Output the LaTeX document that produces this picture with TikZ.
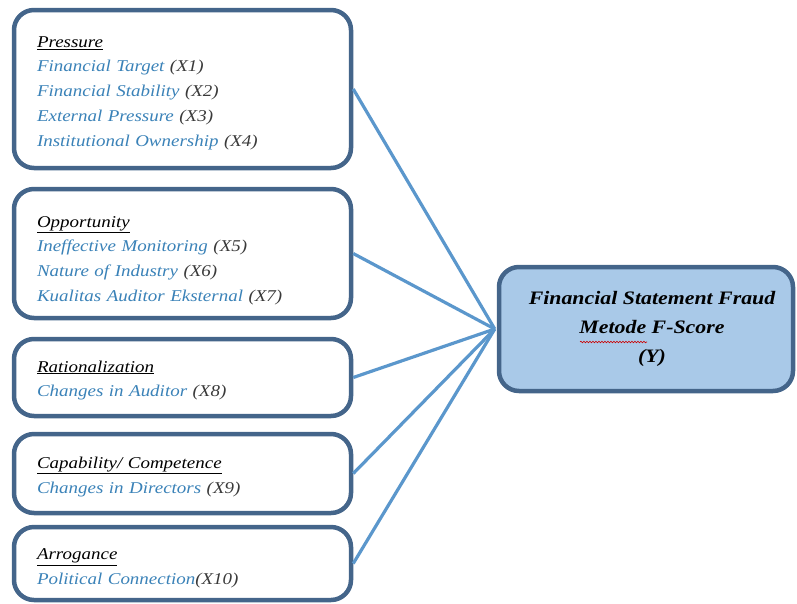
\documentclass[tikz,border=0pt]{standalone}
\usepackage{fontspec}
\setmainfont[FakeStretch=1.15]{Liberation Serif}
\usetikzlibrary{decorations.pathmorphing}
\definecolor{boxline}{HTML}{44658A}
\definecolor{itemblue}{HTML}{3A82B8}
\definecolor{xgray}{HTML}{3A3A3A}
\definecolor{linkblue}{HTML}{5B97CC}
\definecolor{yfill}{HTML}{A9C9E8}
\newcommand{\hd}[1]{\underline{#1}}
\newcommand{\itm}[2]{{\color{itemblue}#1}{\color{xgray}#2}}
\begin{document}
\begin{tikzpicture}[x=1pt,y=-1pt]
\useasboundingbox (0,0) rectangle (797,603);
\tikzset{
  factor/.style={draw=boxline, line width=4.5pt, rounded corners=20pt, fill=white,
    inner sep=0pt, minimum width=337pt},
  factortext/.style={text width=291pt, inner sep=0pt, align=left,
    font=\fontsize{16.5}{24.75}\selectfont\itshape},
  target/.style={draw=boxline, line width=4.5pt, rounded corners=20pt, fill=yfill,
    minimum width=294pt, minimum height=124pt, align=center, inner sep=0pt,
    font=\fontsize{19}{29}\selectfont\bfseries\itshape},
  link/.style={draw=linkblue, line width=3.2pt},
  squiggle/.style={draw=red!80!black, line width=0.6pt, decorate,
    decoration={snake, amplitude=0.8pt, segment length=3pt}}
}
\node[factor, minimum height=158pt] (b1) at (182.5,89) {};
\node[factor, minimum height=129pt] (b2) at (182.5,253.5) {};
\node[factor, minimum height=77pt] (b3) at (182.5,377.5) {};
\node[factor, minimum height=79pt] (b4) at (182.5,473.5) {};
\node[factor, minimum height=73pt] (b5) at (182.5,563.5) {};
\node[factortext] (t1) at ([yshift=-4pt]b1.center) {\hd{Pressure}\\
\itm{Financial Target }{(X1)}\\
\itm{Financial Stability }{(X2)}\\
\itm{External Pressure }{(X3)}\\
\itm{Institutional Ownership }{(X4)}};
\node[factortext] (t2) at ([yshift=-7pt]b2.center) {\hd{Opportunity}\\
\itm{Ineffective Monitoring }{(X5)}\\
\itm{Nature of Industry }{(X6)}\\
\itm{Kualitas Auditor Eksternal }{(X7)}};
\node[factortext] (t3) at ([yshift=-3pt]b3.center) {\hd{Rationalization}\\
\itm{Changes in Auditor }{(X8)}};
\node[factortext] (t4) at ([yshift=-3.5pt]b4.center) {\hd{Capability/ Competence}\\
\itm{Changes in Directors }{(X9)}};
\node[factortext] (t5) at ([yshift=-5pt]b5.center) {\hd{Arrogance}\\
\itm{Political Connection}{(X10)}};
\node[target] (y) at (646,329) {\hspace*{12pt}Financial Statement Fraud\\\hspace*{12pt}Metode F-Score\\\hspace*{12pt}(Y)};
\coordinate (hub) at ([xshift=-2pt]y.west);
\coordinate (sqA) at ([xshift=-66pt,yshift=-13pt]y.center);
\coordinate (sqB) at ([xshift=1pt,yshift=-13pt]y.center);
\path[squiggle] (sqA) -- (sqB);
\draw[link] (b1.east) -- (hub);
\draw[link] (b2.east) -- (hub);
\draw[link] (b3.east) -- (hub);
\draw[link] (b4.east) -- (hub);
\draw[link] (b5.east) -- (hub);
\end{tikzpicture}
\end{document}
